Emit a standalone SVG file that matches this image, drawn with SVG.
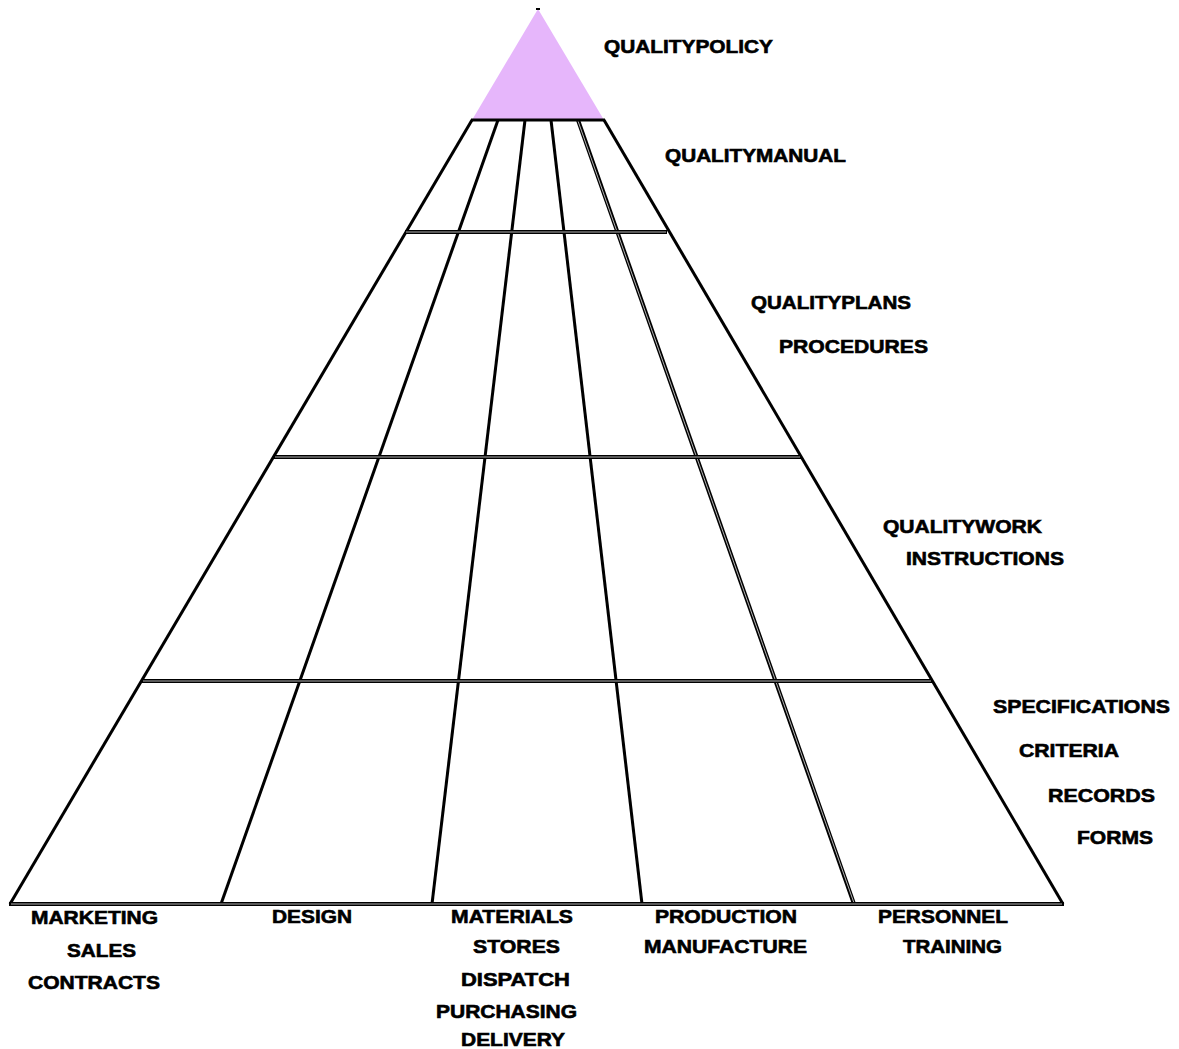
<svg xmlns="http://www.w3.org/2000/svg" width="1179" height="1049" viewBox="0 0 1179 1049">
<style>
.t{font-family:"Liberation Sans",Arial,sans-serif;font-weight:bold;font-size:18.5px;fill:#000;stroke:#000;stroke-width:0.6}
.ln{stroke:#000;stroke-width:3;fill:none;stroke-linecap:butt}
.dbl{stroke:#000;stroke-width:4;fill:none}
.dbli{stroke:#fff;stroke-width:1;fill:none;opacity:0.7}
</style>
<rect width="1179" height="1049" fill="#fff"/>
<g id="apex">
<polygon points="538,9 472,120 604,120" fill="#E6B6FB"/>
<line x1="536" y1="9" x2="540" y2="9" stroke="#000" stroke-width="2"/>
</g>
<g id="connectors">
<line class="ln" x1="472" y1="120" x2="10" y2="904"/>
<line class="ln" x1="604" y1="120" x2="1063" y2="904"/>
<line class="ln" x1="498" y1="120" x2="221" y2="904"/>
<line class="ln" x1="525" y1="120" x2="432" y2="904"/>
<line class="ln" x1="551" y1="120" x2="642" y2="904"/>
<line class="dbl" x1="578" y1="120" x2="854" y2="904"/>
<line class="dbli" x1="578" y1="121" x2="854" y2="903"/>
<line class="ln" x1="471" y1="120" x2="605" y2="120"/>
<line class="dbl" x1="405" y1="232" x2="667" y2="232"/>
<line class="dbl" x1="274" y1="457" x2="801" y2="457"/>
<line class="dbl" x1="142" y1="681" x2="932" y2="681"/>
<line class="dbl" x1="9" y1="904" x2="1064" y2="904"/>
<line class="dbli" x1="406" y1="232" x2="666" y2="232"/>
<line class="dbli" x1="275" y1="457" x2="800" y2="457"/>
<line class="dbli" x1="143" y1="681" x2="931" y2="681"/>
<line class="dbli" x1="11" y1="904" x2="1062" y2="904"/>
</g>
<g id="level-labels">
<text class="t" x="604" y="53" textLength="169" lengthAdjust="spacingAndGlyphs">QUALITYPOLICY</text>
<text class="t" x="665" y="162" textLength="181" lengthAdjust="spacingAndGlyphs">QUALITYMANUAL</text>
<text class="t" x="751" y="309" textLength="160" lengthAdjust="spacingAndGlyphs">QUALITYPLANS</text>
<text class="t" x="779" y="353" textLength="149" lengthAdjust="spacingAndGlyphs">PROCEDURES</text>
<text class="t" x="883" y="533" textLength="159" lengthAdjust="spacingAndGlyphs">QUALITYWORK</text>
<text class="t" x="906" y="565" textLength="158" lengthAdjust="spacingAndGlyphs">INSTRUCTIONS</text>
<text class="t" x="993" y="713" textLength="177" lengthAdjust="spacingAndGlyphs">SPECIFICATIONS</text>
<text class="t" x="1019" y="757" textLength="100" lengthAdjust="spacingAndGlyphs">CRITERIA</text>
<text class="t" x="1048" y="802" textLength="107" lengthAdjust="spacingAndGlyphs">RECORDS</text>
<text class="t" x="1077" y="844" textLength="76" lengthAdjust="spacingAndGlyphs">FORMS</text>
</g>
<g id="function-labels">
<text class="t" x="31" y="924" textLength="127" lengthAdjust="spacingAndGlyphs">MARKETING</text>
<text class="t" x="67" y="957" textLength="69" lengthAdjust="spacingAndGlyphs">SALES</text>
<text class="t" x="28" y="989" textLength="132" lengthAdjust="spacingAndGlyphs">CONTRACTS</text>
<text class="t" x="272" y="923" textLength="80" lengthAdjust="spacingAndGlyphs">DESIGN</text>
<text class="t" x="451" y="923" textLength="122" lengthAdjust="spacingAndGlyphs">MATERIALS</text>
<text class="t" x="473" y="953" textLength="87" lengthAdjust="spacingAndGlyphs">STORES</text>
<text class="t" x="461" y="986" textLength="109" lengthAdjust="spacingAndGlyphs">DISPATCH</text>
<text class="t" x="436" y="1018" textLength="141" lengthAdjust="spacingAndGlyphs">PURCHASING</text>
<text class="t" x="461" y="1046" textLength="104" lengthAdjust="spacingAndGlyphs">DELIVERY</text>
<text class="t" x="655" y="923" textLength="142" lengthAdjust="spacingAndGlyphs">PRODUCTION</text>
<text class="t" x="644" y="953" textLength="163" lengthAdjust="spacingAndGlyphs">MANUFACTURE</text>
<text class="t" x="878" y="923" textLength="130" lengthAdjust="spacingAndGlyphs">PERSONNEL</text>
<text class="t" x="903" y="953" textLength="99" lengthAdjust="spacingAndGlyphs">TRAINING</text>
</g>
</svg>
